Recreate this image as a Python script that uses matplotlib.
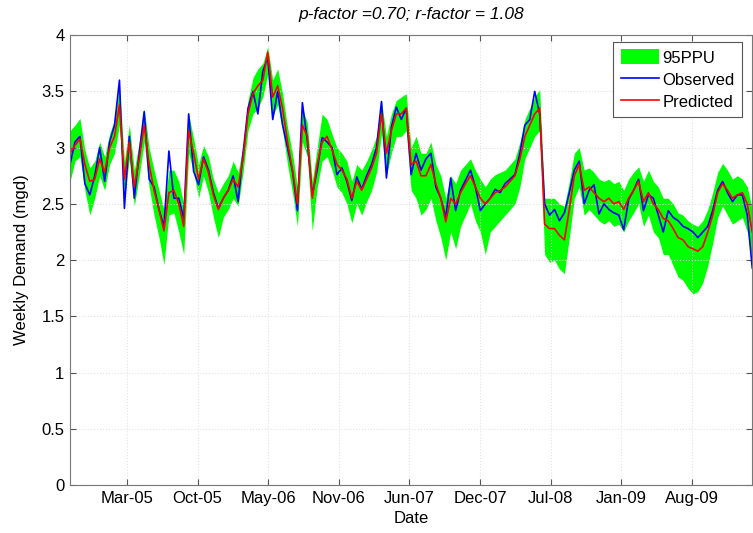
import pandas as pd
import matplotlib
matplotlib.use("Agg")
import matplotlib.pyplot as plt
import matplotlib.dates as mdates

plt.rcParams['font.family'] = ['Liberation Sans', 'DejaVu Sans']

# biweekly samples, Oct 2004 - Jan 2010
dates = pd.date_range('2004-10-18', periods=139, freq='14D')

observed = [2.85, 3.05, 3.10, 2.68, 2.58, 2.75, 3.00, 2.70, 3.05, 3.20,
            3.60, 2.46, 3.10, 2.55, 2.95, 3.32, 2.72, 2.65, 2.45, 2.30,
            2.97, 2.55, 2.55, 2.37, 3.30, 2.79, 2.67, 2.92, 2.80, 2.60,
            2.46, 2.55, 2.62, 2.75, 2.52, 2.95, 3.35, 3.50, 3.30, 3.68,
            3.80, 3.25, 3.50, 3.20, 3.00, 2.79, 2.44, 3.40, 3.06, 2.58,
            2.80, 3.09, 3.05, 3.00, 2.76, 2.82, 2.70, 2.53, 2.74, 2.63,
            2.75, 2.85, 3.00, 3.41, 2.73, 3.18, 3.36, 3.25, 3.35, 2.76,
            2.95, 2.80, 2.90, 2.95, 2.65, 2.55, 2.38, 2.73, 2.44, 2.62,
            2.71, 2.80, 2.65, 2.44, 2.50, 2.55, 2.63, 2.60, 2.68, 2.72,
            2.76, 2.95, 3.20, 3.25, 3.50, 3.30, 2.50, 2.40, 2.45, 2.35,
            2.42, 2.60, 2.80, 2.88, 2.50, 2.62, 2.67, 2.41, 2.50, 2.45,
            2.42, 2.40, 2.27, 2.54, 2.62, 2.72, 2.44, 2.58, 2.55, 2.40,
            2.25, 2.44, 2.38, 2.35, 2.30, 2.28, 2.25, 2.20, 2.25, 2.30,
            2.44, 2.62, 2.70, 2.60, 2.52, 2.58, 2.58, 2.40, 1.93]

predicted = [2.95, 3.02, 3.08, 2.85, 2.70, 2.72, 2.90, 2.78, 3.00, 3.10,
             3.38, 2.72, 3.05, 2.65, 2.90, 3.20, 2.85, 2.62, 2.45, 2.26,
             2.60, 2.62, 2.50, 2.30, 3.15, 2.95, 2.72, 2.90, 2.78, 2.58,
             2.45, 2.55, 2.62, 2.72, 2.65, 2.90, 3.30, 3.48, 3.55, 3.60,
             3.85, 3.45, 3.55, 3.35, 3.05, 2.80, 2.50, 3.20, 3.10, 2.55,
             2.85, 3.05, 3.10, 2.98, 2.85, 2.80, 2.72, 2.55, 2.70, 2.62,
             2.72, 2.82, 2.95, 3.30, 2.95, 3.15, 3.30, 3.30, 3.35, 2.85,
             2.88, 2.75, 2.75, 2.85, 2.68, 2.55, 2.34, 2.55, 2.50, 2.60,
             2.68, 2.75, 2.65, 2.55, 2.50, 2.55, 2.60, 2.62, 2.65, 2.70,
             2.75, 2.90, 3.10, 3.20, 3.30, 3.35, 2.32, 2.28, 2.28, 2.22,
             2.18, 2.45, 2.75, 2.85, 2.62, 2.65, 2.60, 2.55, 2.52, 2.55,
             2.50, 2.52, 2.45, 2.55, 2.62, 2.70, 2.52, 2.60, 2.50, 2.45,
             2.37, 2.35, 2.28, 2.20, 2.18, 2.12, 2.10, 2.08, 2.12, 2.25,
             2.40, 2.60, 2.68, 2.62, 2.55, 2.58, 2.60, 2.50, 2.25]

ppu_lower = [2.70, 2.88, 2.92, 2.62, 2.40, 2.55, 2.75, 2.62, 2.85, 2.95,
             3.20, 2.55, 2.90, 2.48, 2.75, 3.05, 2.65, 2.40, 2.20, 1.96,
             2.40, 2.42, 2.25, 2.05, 2.95, 2.78, 2.55, 2.75, 2.60, 2.38,
             2.20, 2.38, 2.45, 2.55, 2.48, 2.78, 3.15, 3.30, 3.35, 3.45,
             3.65, 3.28, 3.38, 3.15, 2.85, 2.60, 2.30, 3.05, 2.92, 2.26,
             2.65, 2.88, 2.92, 2.80, 2.65, 2.60, 2.50, 2.33, 2.50, 2.40,
             2.52, 2.62, 2.78, 3.12, 2.75, 2.95, 3.10, 3.10, 3.15, 2.62,
             2.55, 2.40, 2.45, 2.55, 2.35, 2.20, 2.00, 2.25, 2.10, 2.30,
             2.40, 2.50, 2.35, 2.25, 2.05, 2.25, 2.30, 2.35, 2.40, 2.45,
             2.50, 2.65, 2.90, 3.00, 3.10, 3.15, 2.05, 1.98, 2.00, 1.92,
             1.88, 2.20, 2.55, 2.65, 2.40, 2.45, 2.40, 2.35, 2.32, 2.35,
             2.30, 2.32, 2.25, 2.35, 2.42, 2.50, 2.30, 2.40, 2.25, 2.20,
             2.05, 2.05, 1.95, 1.85, 1.82, 1.75, 1.70, 1.72, 1.80, 1.95,
             2.15, 2.38, 2.48, 2.40, 2.32, 2.35, 2.38, 2.25, 2.00]

ppu_upper = [3.15, 3.20, 3.26, 2.98, 2.82, 2.88, 3.05, 2.92, 3.12, 3.25,
             3.55, 2.88, 3.20, 2.80, 3.05, 3.35, 3.00, 2.80, 2.62, 2.45,
             2.80, 2.80, 2.70, 2.50, 3.30, 3.08, 2.85, 3.02, 2.92, 2.72,
             2.60, 2.68, 2.75, 2.88, 2.78, 3.02, 3.42, 3.62, 3.70, 3.75,
             3.90, 3.60, 3.70, 3.48, 3.18, 2.95, 2.65, 3.35, 3.22, 2.70,
             3.00, 3.30, 3.25, 3.12, 3.00, 2.95, 2.88, 2.70, 2.85, 2.80,
             2.88, 2.98, 3.10, 3.42, 3.10, 3.30, 3.42, 3.45, 3.48, 3.00,
             3.10, 2.95, 2.95, 3.05, 2.85, 2.75, 2.55, 2.75, 2.68, 2.80,
             2.85, 2.90, 2.80, 2.72, 2.65, 2.72, 2.76, 2.78, 2.80, 2.85,
             2.90, 3.05, 3.25, 3.35, 3.45, 3.52, 2.55, 2.55, 2.55, 2.50,
             2.48, 2.70, 2.95, 3.00, 2.80, 2.82, 2.78, 2.72, 2.70, 2.72,
             2.68, 2.70, 2.62, 2.72, 2.78, 2.83, 2.70, 2.80, 2.70, 2.65,
             2.55, 2.55, 2.50, 2.42, 2.40, 2.35, 2.32, 2.30, 2.35, 2.45,
             2.60, 2.78, 2.86, 2.80, 2.72, 2.75, 2.72, 2.65, 2.45]

tick_dates = ['2005-03-28', '2005-10-14', '2006-05-02', '2006-11-18',
              '2007-06-06', '2007-12-23', '2008-07-10', '2009-01-26',
              '2009-08-14']

fig = plt.figure(figsize=(7.53, 5.33), dpi=100)
ax = fig.add_axes([0.093, 0.090, 0.906, 0.844])

ax.fill_between(dates, ppu_lower, ppu_upper, color='#00ff00', linewidth=0,
                label='95PPU')
ax.plot(dates, observed, color='#0000ff', linewidth=1.2, label='Observed')
ax.plot(dates, predicted, color='#ff0000', linewidth=1.2, label='Predicted')

ax.set_xlim(dates[0], dates[-1])
ax.set_ylim(0, 4)
ax.set_yticks([0, 0.5, 1, 1.5, 2, 2.5, 3, 3.5, 4])
ax.set_yticklabels(['0', '0.5', '1', '1.5', '2', '2.5', '3', '3.5', '4'])
ax.set_xticks(pd.to_datetime(tick_dates))
ax.xaxis.set_major_formatter(mdates.DateFormatter('%b-%y'))
ax.tick_params(direction='in', top=True, right=True, labelsize=12,
               length=4, color='#555555', pad=4)
ax.grid(True, color='#e2e2e2', linestyle=':', linewidth=0.8)
for s in ax.spines.values():
    s.set_color('#777777')

ax.set_xlabel('Date', fontsize=12, labelpad=4)
ax.set_ylabel('Weekly Demand (mgd)', fontsize=12, labelpad=9)
ax.set_title('p-factor =0.70; r-factor = 1.08', fontsize=12.5,
             fontstyle='italic', pad=12)

leg = ax.legend(loc='upper right', bbox_to_anchor=(0.985, 0.985),
                fontsize=12, fancybox=False, framealpha=1, edgecolor='#555555',
                handlelength=2.3, handleheight=1.0, borderpad=0.45,
                labelspacing=0.35, handletextpad=0.2, borderaxespad=0)
leg.get_frame().set_linewidth(0.8)

fig.savefig('out.png', dpi=100)
